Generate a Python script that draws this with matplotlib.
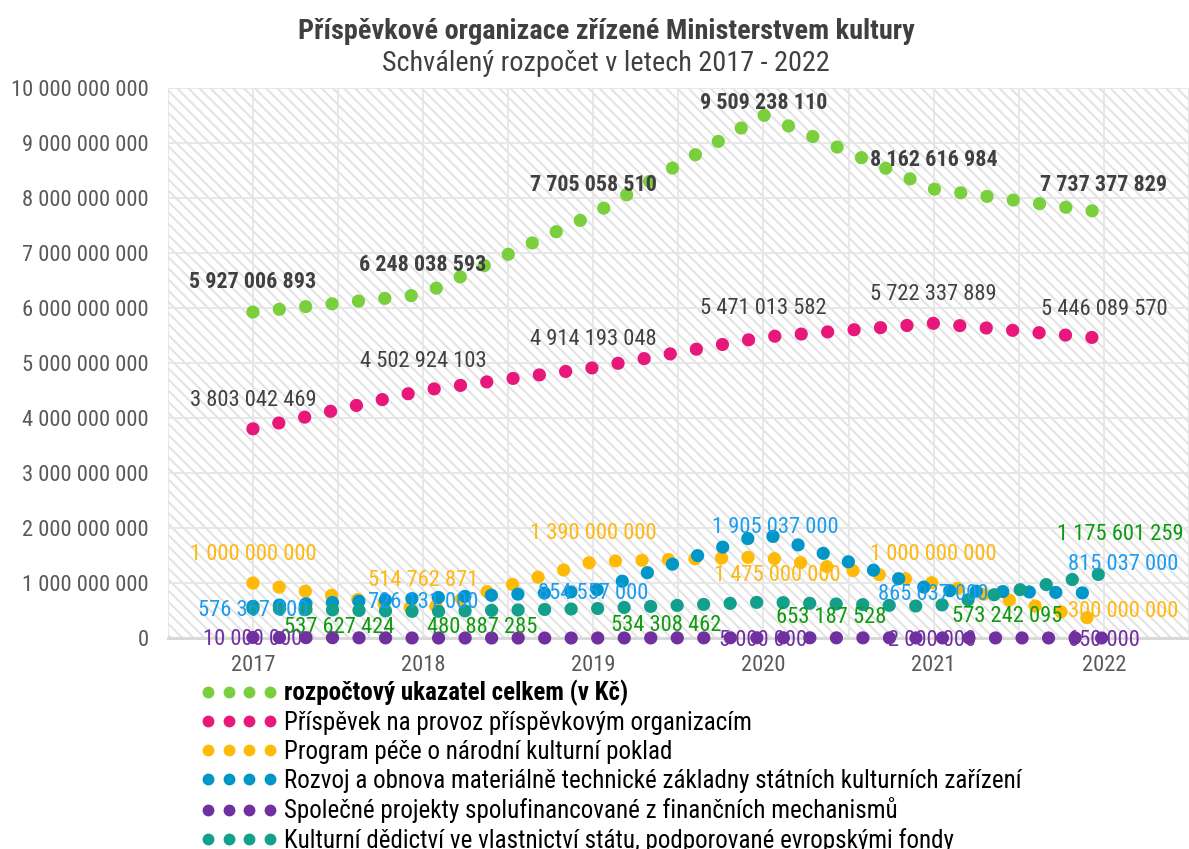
import matplotlib
matplotlib.use("Agg")
import matplotlib.pyplot as plt
from matplotlib.lines import Line2D

plt.rcParams['font.family'] = ['Roboto Condensed', 'Liberation Sans', 'DejaVu Sans']
plt.rcParams['hatch.color'] = '#e2e2e2'
plt.rcParams['hatch.linewidth'] = 1.4

# data
roky = ['2017', '2018', '2019', '2020', '2021', '2022']
celkem = [5927006893, 6248038593, 7705058510, 9509238110, 8162616984, 7737377829]
prispevek = [3803042469, 4502924103, 4914193048, 5471013582, 5722337889, 5446089570]
program_pece = [1000000000, 514762871, 1390000000, 1475000000, 1000000000, 300000000]
rozvoj = [576367000, 726131000, 854557000, 1905037000, 865037000, 815037000]
spolecne = [10000000, 0, 0, 5000000, 2000000, 650000]
dedictvi = [537627424, 480887285, 534308462, 653187528, 573242095, 1175601259]

nazvy = ['rozpočtový ukazatel celkem (v Kč)',
         'Příspěvek na provoz příspěvkovým organizacím',
         'Program péče o národní kulturní poklad',
         'Rozvoj a obnova materiálně technické základny státních kulturních zařízení',
         'Společné projekty spolufinancované z finančních mechanismů',
         'Kulturní dědictví ve vlastnictví státu, podporované evropskými fondy']

# barva teckovane cary, barva popisku, tucne, posun popisku v px (None = bez popisku)
serie = [
    (celkem, '#7ACF3C', '#404040', 'bold',
     [(0, 32), (0, 31), (0, 31), (0, 14), (0, 31), (0, 29)]),
    (prispevek, '#E8177A', '#404040', 'normal',
     [(0, 31)] * 6),
    (program_pece, '#FFBA08', '#FFB810', 'normal',
     [(0, 31), (0, 32), (0, 31), (14, -16), (0, 31), (19, 13)]),
    (rozvoj, '#0096C8', '#1A9CF0', 'normal',
     [(0, -2), (0, -2), (0, 0), (12, 8), (-1, -2), (19, 31)]),
    (spolecne, '#7030A0', '#7030A0', 'normal',
     [(0, 0), None, None, (0, 0), (-2, 0), (0, 0)]),
    (dedictvi, '#12A08C', '#0E9A0E', 'normal',
     [(86, -17), (59, -13), (73, -14), (68, -13), (73, -8), (16, 41)]),
]

FS_CISLA = 16.2   # popisky a osy
FS_TUCNE = 15.8   # tucne popisky souctu
FS_LEG = 18
FS_TITUL = 20.3

def fmt(v):
    return f"{v:,}".replace(",", " ")

fig = plt.figure(figsize=(11.89, 8.49), dpi=100)
ax = fig.add_axes([0.1411, 0.2485, 0.8589, 0.6478])

# pozadi s sikmym srafovanim
ax.patch.set_facecolor('white')
ax.patch.set_edgecolor('#e2e2e2')
ax.patch.set_linewidth(0)
ax.patch.set_hatch('\\\\\\')

x = list(range(len(roky)))
for vals, barva, lbl_barva, tucne, posuny in serie:
    ax.plot(x, vals, color=barva, lw=9.5, linestyle=(0, (0.01, 2.0)),
            dash_capstyle='round', clip_on=False, zorder=3)

for vals, barva, lbl_barva, tucne, posuny in serie:
    for i, v in enumerate(vals):
        if posuny[i] is None:
            continue
        dx, dy = posuny[i]
        ax.annotate(fmt(v), (x[i], v), xytext=(dx, dy - 8), textcoords='offset pixels',
                    ha='center', va='baseline',
                    fontsize=FS_TUCNE if tucne == 'bold' else FS_CISLA,
                    color=lbl_barva, fontweight=tucne, annotation_clip=False, zorder=5)

ax.set_xlim(-0.5, 5.46)
ax.set_ylim(0, 10e9)
ax.set_yticks([i * 1e9 for i in range(11)])
ax.set_yticklabels([fmt(int(i * 1e9)) for i in range(11)])
ax.set_xticks(x)
ax.set_xticklabels(roky)
ax.set_xticks([i - 0.5 for i in range(7)] + [5.5], minor=True)
ax.tick_params(axis='both', which='both', length=0, labelsize=FS_CISLA, labelcolor='#595959')
ax.tick_params(axis='y', pad=13.5)
ax.tick_params(axis='x', pad=12)

ax.grid(True, axis='y', color='#e6e6e6', lw=1.3, zorder=1)
ax.grid(True, axis='x', which='both', color='#e6e6e6', lw=1.3, zorder=1)
ax.set_axisbelow(True)

for s in ['top', 'right', 'left']:
    ax.spines[s].set_visible(False)
ax.spines['bottom'].set_color('#d9d9d9')
ax.spines['bottom'].set_linewidth(2.2)
ax.spines['bottom'].set_zorder(2)

fig.text(0.5097, 0.963, 'Příspěvkové organizace zřízené Ministerstvem kultury',
         ha='center', va='center', fontsize=FS_TITUL, fontweight='bold', color='#404040')
fig.text(0.5097, 0.925, 'Schválený rozpočet v letech 2017 - 2022',
         ha='center', va='center', fontsize=FS_TITUL, color='#404040')

# legenda
handles = [Line2D([], [], linestyle='none', marker='o', markersize=7.5,
                  color=s[1]) for s in serie]
leg = fig.legend(handles, nazvy, loc='upper left', bbox_to_anchor=(201 / 1189, 1 - 680 / 849),
                 frameon=False, fontsize=FS_LEG, numpoints=4, handlelength=3.05,
                 handletextpad=0.25, labelspacing=0.19, borderpad=0, borderaxespad=0)
for t in leg.get_texts():
    t.set_color('#000000')
leg.get_texts()[0].set_fontweight('bold')

fig.savefig('out.png', dpi=100)
